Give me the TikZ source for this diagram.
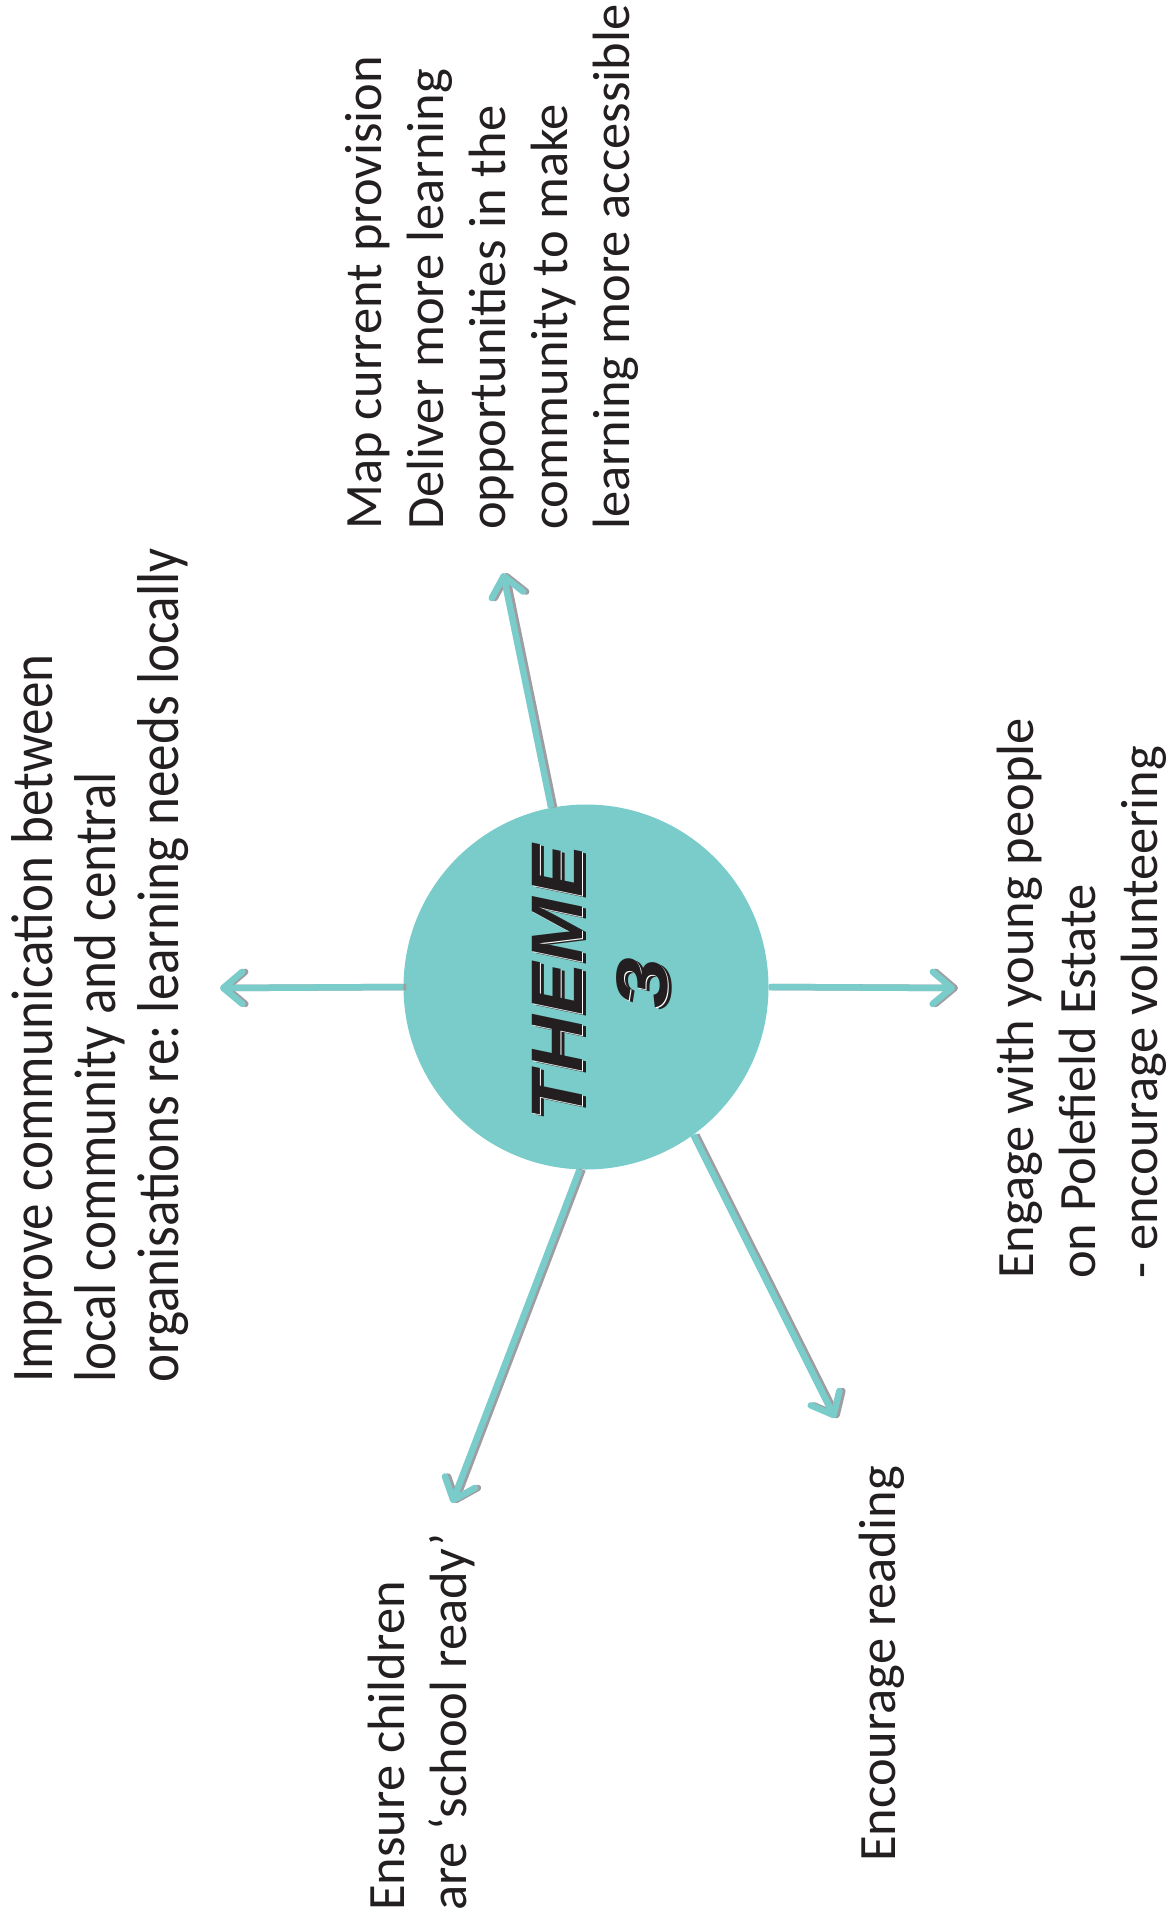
\documentclass[tikz,border=0pt]{standalone}
\usepackage{fontspec}
\setmainfont{Carlito}
\newfontfamily\themefont{Liberation Sans}
\usetikzlibrary{arrows.meta}
\definecolor{tealc}{RGB}{122,204,203}
\definecolor{shgray}{RGB}{158,158,162}
\definecolor{inkc}{RGB}{35,31,32}
\frenchspacing
\tikzset{
  lbl/.style={rotate=90, anchor=base west, inner sep=0pt, text=inkc, font=\fontsize{52.5}{62}\selectfont},
  lblc/.style={rotate=90, anchor=base west, inner sep=0pt, text=inkc, font=\fontsize{59}{63}\selectfont},
  arr/.style={line width=6.5pt, draw=tealc, -{Straight Barb[length=19pt,width=32pt,round]}},
  arrsh/.style={arr, draw=shgray, transform canvas={xshift=3pt}},
  themetxt/.style={rotate=90, anchor=base, inner sep=0pt, font=\themefont\bfseries\itshape\fontsize{73}{80}\selectfont},
}
\begin{document}
\begin{tikzpicture}[x=1pt,y=-1pt]
\useasboundingbox (0,0) rectangle (1168,1927);
% centre circle
\node[circle, fill=tealc, minimum size=365pt, inner sep=0pt] (theme) at (586,987) {};
% arrow tips
\coordinate (tA) at (503,573);
\coordinate (tB) at (220,988);
\coordinate (tC) at (955,988);
\coordinate (tD) at (452,1503);
\coordinate (tE) at (835,1418);
% shadows
\draw[arrsh] (theme.101.7) -- (tA);
\draw[arrsh] (theme.180) -- (tB);
\draw[arrsh] (theme.0) -- (tC);
\draw[arrsh] (theme.268.4) -- (tD);
\draw[arrsh] (theme.306.6) -- (tE);
% arrows
\draw[arr] (theme.101.7) -- (tA);
\draw[arr] (theme.180) -- (tB);
\draw[arr] (theme.0) -- (tC);
\draw[arr] (theme.268.4) -- (tD);
\draw[arr] (theme.306.6) -- (tE);
% THEME 3 label (shadow, gap, face)
\node[themetxt, text=inkc, transform canvas={xshift=4pt,yshift=-2pt}] (themeTs) at (582,983) {\scalebox{1.08}[1]{THEME}};
\node[themetxt, text=white, transform canvas={xshift=1.5pt,yshift=-0.8pt}] (themeTw) at (582,983) {\scalebox{1.08}[1]{THEME}};
\node[themetxt, text=inkc] (themeT) at (582,983) {\scalebox{1.08}[1]{THEME}};
\node[themetxt, text=inkc, transform canvas={xshift=4pt,yshift=-2pt}] (themeNs) at (667,983) {\scalebox{1.25}[1]{3}};
\node[themetxt, text=white, transform canvas={xshift=1.5pt,yshift=-0.8pt}] (themeNw) at (667,983) {\scalebox{1.25}[1]{3}};
\node[themetxt, text=inkc] (themeN) at (667,983) {\scalebox{1.25}[1]{3}};
% block 1 (left)
\node[lblc] (imp1) at (52,1383) {\scalebox{0.9}[1]{Improve communication between}};
\node[lblc] (imp2) at (115,1383) {\scalebox{0.9}[1]{local community and central}};
\node[lblc] (imp3) at (178,1383) {\scalebox{0.9}[1]{organisations re: learning needs locally}};
% block 2 (top)
\node[lbl] (map1) at (381,530) {Map current provision};
\node[lbl] (map2) at (443,530) {Deliver more learning};
\node[lbl] (map3) at (505,530) {opportunities in the};
\node[lbl] (map4) at (567,530) {community to make};
\node[lbl] (map5) at (629,530) {learning more accessible};
% block 3 (right)
\node[lbl] (eng1) at (1033,1279) {Engage with young people};
\node[lbl] (eng2) at (1095,1279) {on Polefield Estate};
\node[lbl] (eng3) at (1157,1279) {- encourage volunteering};
% block 4 (bottom left)
\node[lbl] (ens1) at (404,1911) {Ensure children};
\node[lbl] (ens2) at (466,1911) {are ‘school ready’};
% block 5 (bottom right)
\node[lbl] (read) at (895,1862) {Encourage reading};
\end{tikzpicture}
\end{document}
